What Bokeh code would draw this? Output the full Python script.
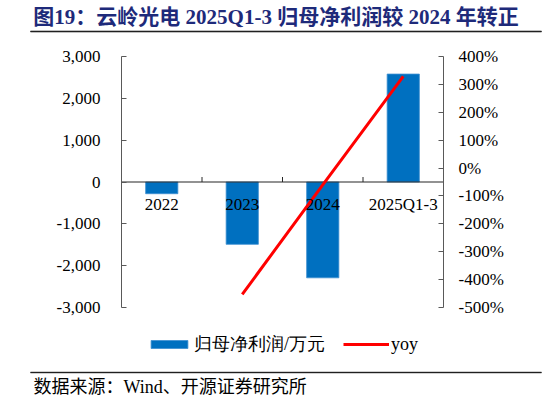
import math
from bokeh.plotting import figure
from bokeh.models import (Range1d, FactorRange, LinearAxis, FixedTicker, Legend, LegendItem,
                          ColumnDataSource)
from bokeh.core.properties import value
from bokeh.embed import file_html
from bokeh.resources import INLINE

# ---------------- data ----------------
categories = ["2022", "2023", "2024", "2025Q1-3"]
net_profit = [-280, -1490, -2290, 2580]          # 归母净利润 / 万元
yoy_pct = [float("nan"), -453, -60, 329]          # yoy, %
left_ticks = [-3000, -2000, -1000, 0, 1000, 2000, 3000]
right_ticks = [-500, -400, -300, -200, -100, 0, 100, 200, 300, 400]
left_tick_labels = [f"{v:,}" for v in left_ticks]
right_tick_labels = [f"{v}%" for v in right_ticks]
title_text = "图19：云岭光电 2025Q1-3 归母净利润较 2024 年转正"
source_text = "数据来源：Wind、开源证券研究所"
bar_label = "归母净利润/万元"
line_label = "yoy"

# ---------------- layout (pixels) ----------------
W, H = 546, 405
PLOT_L, PLOT_R, PLOT_T, PLOT_B = 121, 443, 56, 307   # the axes box
FRAME_L = 20
FRAME_R = (PLOT_L + PLOT_R) - FRAME_L                # symmetric drawing frame
SERIF = "'Liberation Serif', 'Noto Sans CJK SC'"
NAVY = "#1E2A7A"
AXIS_COL = "#595959"

n = len(categories)
unit_px = (PLOT_R - PLOT_L) / n
pad_units = (PLOT_L - FRAME_L) / unit_px

ymin, ymax = left_ticks[0], left_ticks[-1]
ly_per_px = (ymax - ymin) / (PLOT_B - PLOT_T)
rmin, rmax = right_ticks[0], right_ticks[-1]
ry_per_px = (rmax - rmin) / (PLOT_B - PLOT_T)


def px_x(px):   # canvas pixel -> synthetic category coordinate
    return (px - PLOT_L) / unit_px


def px_y(py):   # canvas pixel -> left-axis value
    return ymax + (PLOT_T - py) * ly_per_px


p = figure(width=W, height=H,
           x_range=FactorRange(*categories, range_padding=2 * pad_units / n,
                               range_padding_units="percent"),
           y_range=Range1d(ymin - (H - PLOT_B) * ly_per_px, ymax + PLOT_T * ly_per_px),
           output_backend="svg", toolbar_location=None,
           x_axis_location=None, y_axis_location=None,
           min_border_left=FRAME_L, min_border_right=W - FRAME_R,
           min_border_top=0, min_border_bottom=0)
p.grid.visible = False
p.outline_line_color = None
p.extra_y_ranges = {"yoy": Range1d(rmin - (H - PLOT_B) * ry_per_px, rmax + PLOT_T * ry_per_px)}


def style_axis(ax, ticks):
    ax.axis_line_color = AXIS_COL
    ax.axis_line_width = 1
    ax.major_tick_line_color = AXIS_COL
    ax.major_tick_in = 5
    ax.major_tick_out = 0
    ax.minor_tick_line_color = None
    ax.major_label_overrides = {t: "" for t in ticks}
    ax.major_label_text_color = None


yl = LinearAxis(ticker=FixedTicker(ticks=left_ticks), fixed_location=0, bounds=(ymin, ymax))
style_axis(yl, left_ticks)
p.add_layout(yl, "left")

yr = LinearAxis(y_range_name="yoy", ticker=FixedTicker(ticks=right_ticks),
                fixed_location=n, bounds=(rmin, rmax))
style_axis(yr, right_ticks)
p.add_layout(yr, "right")

# tick labels (serif)
p.text(x=[0] * len(left_ticks), y=left_ticks, text=left_tick_labels, x_offset=-21,
       text_align="right", text_baseline="middle", text_font=value("Liberation Serif"),
       text_font_size="17px", text_color="#000000")
p.text(x=[n] * len(right_ticks), y=right_ticks, text=right_tick_labels, x_offset=15,
       y_range_name="yoy", text_align="left", text_baseline="middle",
       text_font=value("Liberation Serif"), text_font_size="17px", text_color="#000000")

src = ColumnDataSource(dict(cat=categories, val=net_profit, yoy=yoy_pct,
                            zero=[0] * n))

r_bar = p.vbar(x="cat", top="val", bottom=0, width=0.4, source=src,
               fill_color="#0070C0", line_color="#3d8fd1", line_width=0.8)

# category axis along the zero line, with separator ticks between categories
p.segment(x0=[0], y0=[0], x1=[n], y1=[0], line_color="#262626", line_width=1.2)
tick_len = 5 * ly_per_px
bounds = [i for i in range(1, n)]
p.segment(x0=bounds, y0=[0] * len(bounds), x1=bounds, y1=[tick_len] * len(bounds),
          line_color="#262626", line_width=1)

r_line = p.line(x="cat", y="yoy", source=src, y_range_name="yoy",
                line_color="#FF0000", line_width=3)

p.text(x="cat", y="zero", text="cat", source=src, text_align="center", text_baseline="middle",
       y_offset=22, text_font=value("Liberation Serif"), text_font_size="17px", text_color="#000000")

legend = Legend(items=[LegendItem(label=bar_label, renderers=[r_bar]),
                       LegendItem(label=line_label, renderers=[r_line])],
                orientation="horizontal", location=(146 - FRAME_L, 49),
                border_line_color=None, background_fill_alpha=0,
                glyph_width=46, glyph_height=10, label_standoff=2, spacing=18,
                padding=0, margin=0,
                label_text_font="Liberation Serif", label_text_font_size="18px",
                label_text_color="#000000")
p.add_layout(legend)

# ---------------- title, source, rules ----------------
p.text(x=[px_x(275.5)], y=[px_y(16)], text=[title_text], text_font=value(SERIF),
       text_font_size="21px", text_font_style="bold", text_color=NAVY,
       text_baseline="middle", text_align="center")
p.text(x=[px_x(33)], y=[px_y(386)], text=[source_text], text_font=value(SERIF),
       text_font_size="18px", text_color="#000000", text_baseline="middle", text_align="left")

rule_left, rule_right = px_x(30), px_x(541)
p.quad(left=[rule_left], right=[rule_right], top=[px_y(30.3)], bottom=[px_y(31.7)],
       fill_color="#000000", line_color=None)
p.quad(left=[rule_left], right=[rule_right], top=[px_y(371.3)], bottom=[px_y(372.7)],
       fill_color="#404040", line_color=None)
p.segment(x0=[rule_left, rule_left], y0=[px_y(31), px_y(372)],
          x1=[rule_right, rule_right], y1=[px_y(31), px_y(372)],
          line_color="#202020", line_width=1.2)

open("out.html", "w").write(file_html(p, INLINE))
